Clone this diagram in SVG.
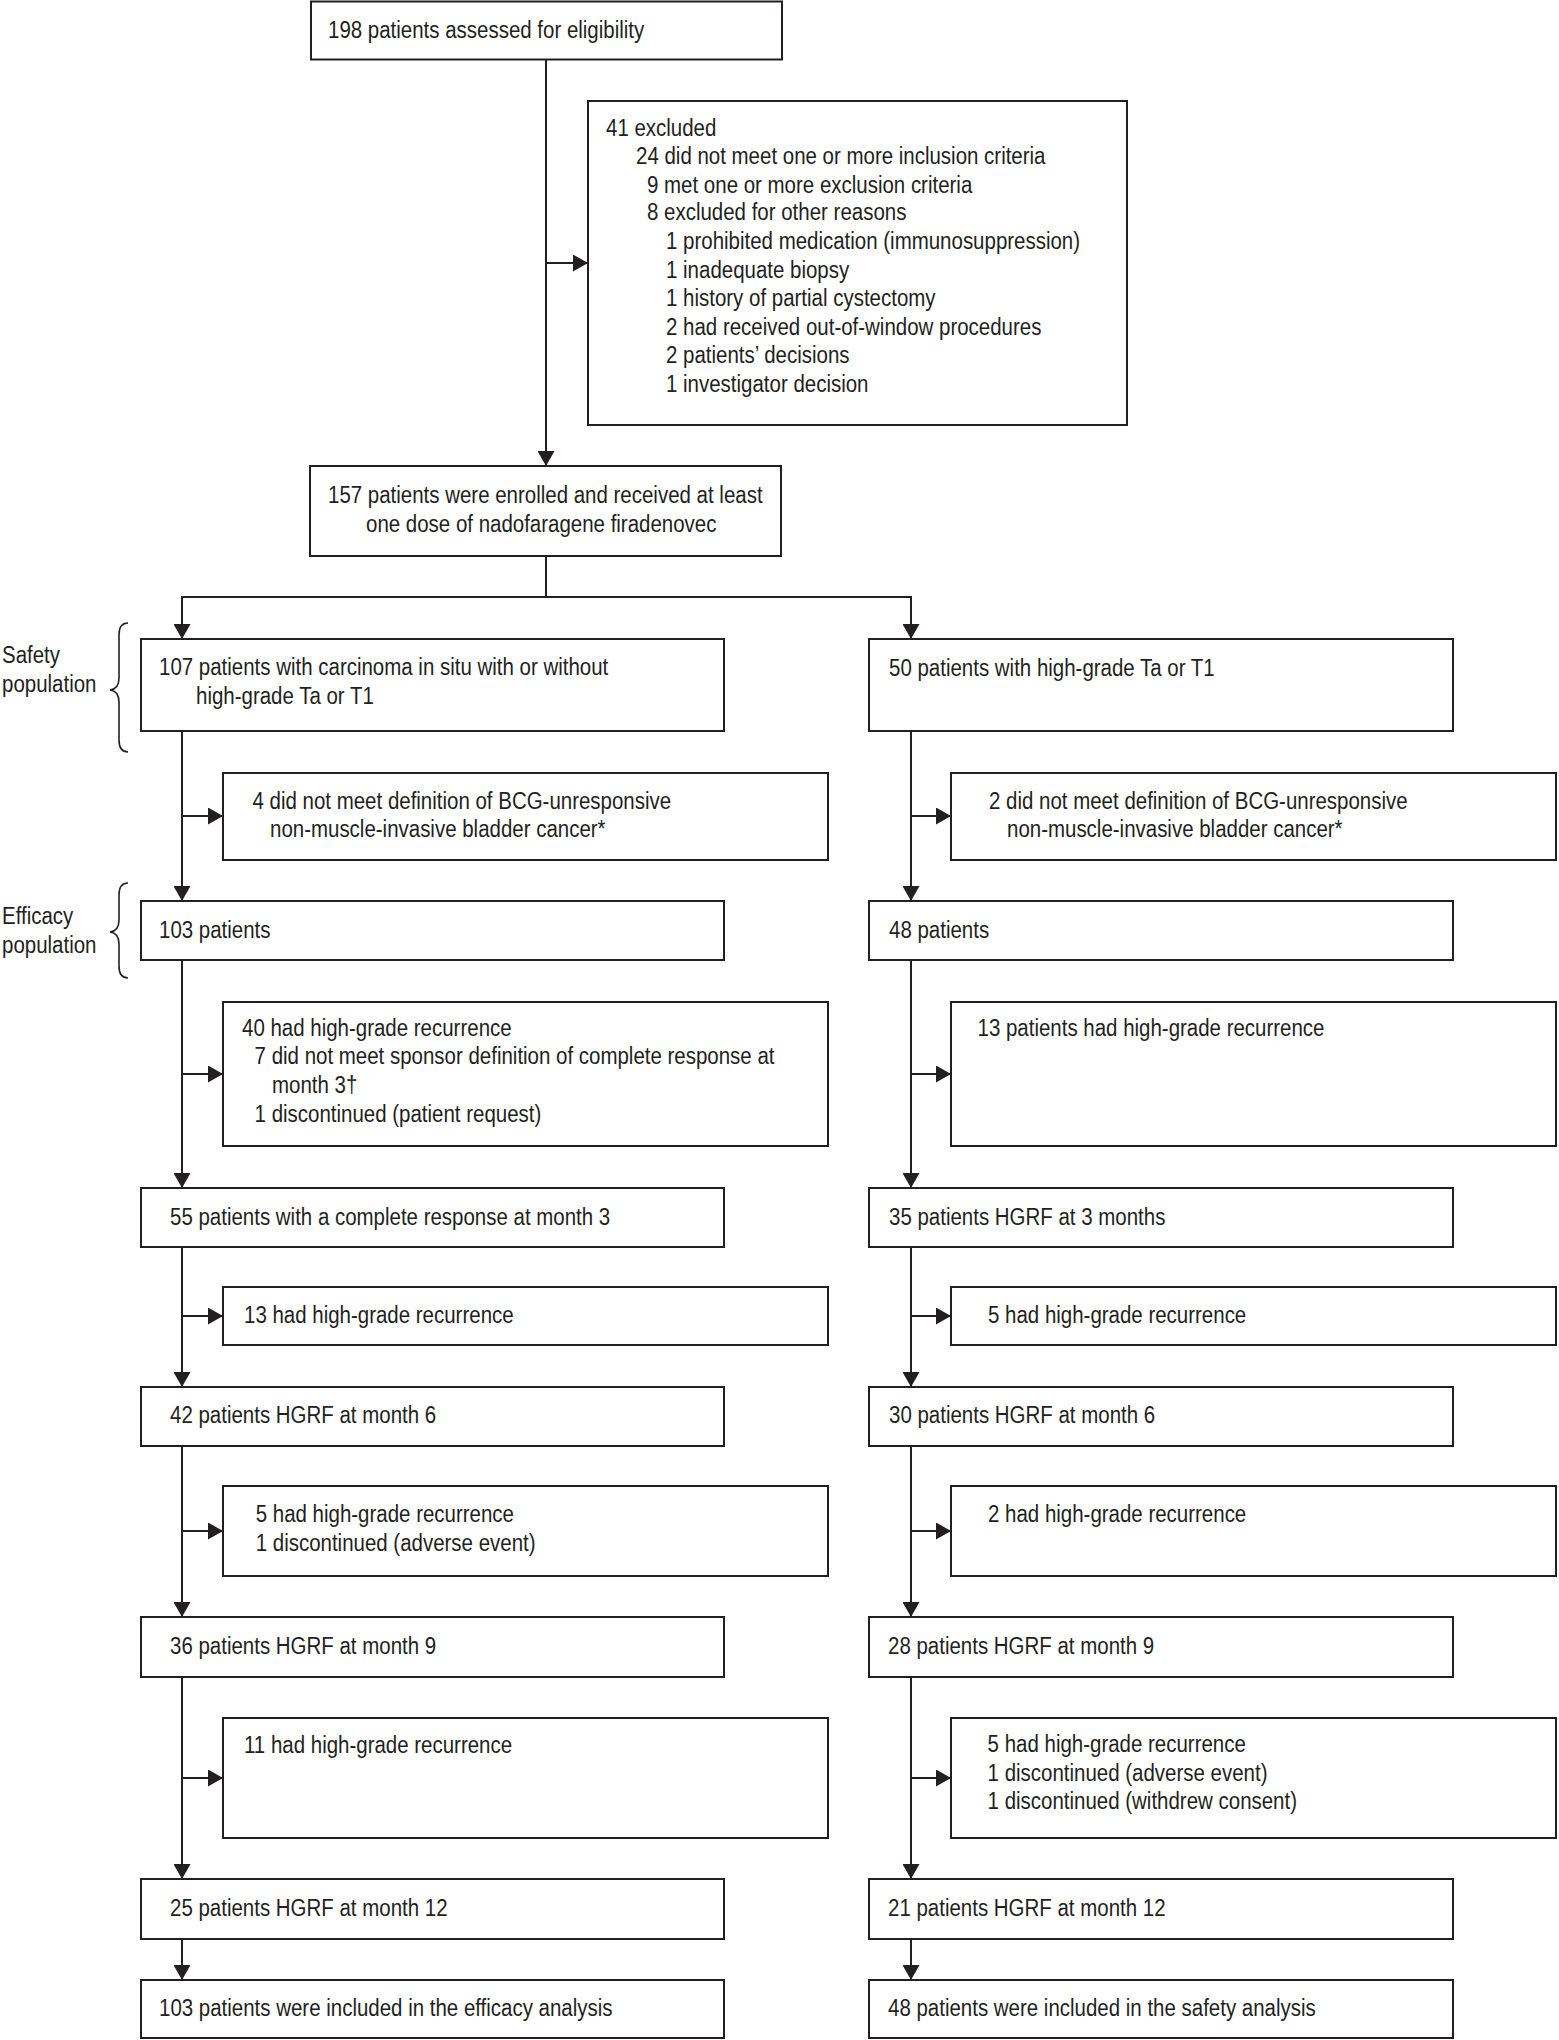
<svg xmlns="http://www.w3.org/2000/svg" width="1559" height="2040" viewBox="0 0 1559 2040">
<style>
rect.box{fill:#fff;stroke:#231f20;stroke-width:2}
.t{font-family:"Liberation Sans",Arial,sans-serif;font-size:23px;fill:#231f20}
.c{fill:none;stroke:#231f20;stroke-width:2}
.br{fill:none;stroke:#231f20;stroke-width:1.6}
</style>
<defs>
<marker id="ah" markerUnits="userSpaceOnUse" markerWidth="15" markerHeight="17" refX="15" refY="8.5" orient="auto">
<path d="M0,0 L15,8.5 L0,17 z" fill="#231f20"/>
</marker>
</defs>
<rect width="1559" height="2040" fill="#fff"/>

<g id="connectors">
<path class="c" d="M546,60 V466" marker-end="url(#ah)"/>
<path class="c" d="M546,263 H588" marker-end="url(#ah)"/>
<path class="c" d="M546,556 V597 H182 V639" marker-end="url(#ah)"/>
<path class="c" d="M546,597 H911 V639" marker-end="url(#ah)"/>
<path class="c" d="M182,731 V901" marker-end="url(#ah)"/>
<path class="c" d="M182,816 H223" marker-end="url(#ah)"/>
<path class="c" d="M182,960 V1188" marker-end="url(#ah)"/>
<path class="c" d="M182,1074 H223" marker-end="url(#ah)"/>
<path class="c" d="M182,1247 V1387" marker-end="url(#ah)"/>
<path class="c" d="M182,1316 H223" marker-end="url(#ah)"/>
<path class="c" d="M182,1446 V1617" marker-end="url(#ah)"/>
<path class="c" d="M182,1531 H223" marker-end="url(#ah)"/>
<path class="c" d="M182,1677 V1879" marker-end="url(#ah)"/>
<path class="c" d="M182,1778 H223" marker-end="url(#ah)"/>
<path class="c" d="M182,1939 V1980" marker-end="url(#ah)"/>
<path class="c" d="M911,731 V901" marker-end="url(#ah)"/>
<path class="c" d="M911,816 H951" marker-end="url(#ah)"/>
<path class="c" d="M911,960 V1188" marker-end="url(#ah)"/>
<path class="c" d="M911,1074 H951" marker-end="url(#ah)"/>
<path class="c" d="M911,1247 V1387" marker-end="url(#ah)"/>
<path class="c" d="M911,1316 H951" marker-end="url(#ah)"/>
<path class="c" d="M911,1446 V1617" marker-end="url(#ah)"/>
<path class="c" d="M911,1531 H951" marker-end="url(#ah)"/>
<path class="c" d="M911,1677 V1879" marker-end="url(#ah)"/>
<path class="c" d="M911,1778 H951" marker-end="url(#ah)"/>
<path class="c" d="M911,1939 V1980" marker-end="url(#ah)"/>
</g>

<g id="labels">
<text class="t" transform="translate(2 663) scale(.89 1)">Safety</text>
<text class="t" transform="translate(2 692) scale(.89 1)">population</text>
<path class="br" d="M128,623 Q119,623 119,635 L119,678 Q119,689 110,690 Q119,691 119,702 L119,740 Q119,752 128,752"/>
<text class="t" transform="translate(2 924) scale(.89 1)">Efficacy</text>
<text class="t" transform="translate(2 953) scale(.89 1)">population</text>
<path class="br" d="M128,883 Q119,883 119,895 L119,920 Q119,931 110,932 Q119,933 119,944 L119,966 Q119,978 128,978"/>
</g>

<g id="n-assessed">
<rect class="box" x="311" y="1.5" width="471" height="58"/>
<text class="t" transform="translate(328 38) scale(.89 1)">198 patients assessed for eligibility</text>
</g>

<g id="n-excluded">
<rect class="box" x="588" y="101" width="539" height="324"/>
<text class="t" transform="translate(606 135.5) scale(.89 1)">41 excluded</text>
<text class="t" transform="translate(636 164) scale(.89 1)">24 did not meet one or more inclusion criteria</text>
<text class="t" transform="translate(647 193) scale(.89 1)">9 met one or more exclusion criteria</text>
<text class="t" transform="translate(647 220) scale(.89 1)">8 excluded for other reasons</text>
<text class="t" transform="translate(666 249) scale(.89 1)">1 prohibited medication (immunosuppression)</text>
<text class="t" transform="translate(666 277.5) scale(.89 1)">1 inadequate biopsy</text>
<text class="t" transform="translate(666 306) scale(.89 1)">1 history of partial cystectomy</text>
<text class="t" transform="translate(666 334.5) scale(.89 1)">2 had received out-of-window procedures</text>
<text class="t" transform="translate(666 363) scale(.89 1)">2 patients’ decisions</text>
<text class="t" transform="translate(666 392) scale(.89 1)">1 investigator decision</text>
</g>

<g id="n-enrolled">
<rect class="box" x="310" y="466" width="471" height="90"/>
<text class="t" transform="translate(328 503) scale(.89 1)">157 patients were enrolled and received at least</text>
<text class="t" transform="translate(366 532) scale(.89 1)">one dose of nadofaragene firadenovec</text>
</g>

<g id="n-l-cis">
<rect class="box" x="141" y="639" width="583" height="92"/>
<text class="t" transform="translate(159 675) scale(.89 1)">107 patients with carcinoma in situ with or without</text>
<text class="t" transform="translate(196 704) scale(.89 1)">high-grade Ta or T1</text>
</g>
<g id="n-r-ta">
<rect class="box" x="869" y="639" width="584" height="92"/>
<text class="t" transform="translate(889 676) scale(.89 1)">50 patients with high-grade Ta or T1</text>
</g>

<g id="n-l-excl">
<rect class="box" x="223" y="773" width="605" height="87"/>
<text class="t" transform="translate(252.5 808.5) scale(.89 1)">4 did not meet definition of BCG-unresponsive</text>
<text class="t" transform="translate(270 836.5) scale(.89 1)">non-muscle-invasive bladder cancer*</text>
</g>
<g id="n-r-excl">
<rect class="box" x="951" y="773" width="605" height="87"/>
<text class="t" transform="translate(989 808.5) scale(.89 1)">2 did not meet definition of BCG-unresponsive</text>
<text class="t" transform="translate(1007 836.5) scale(.89 1)">non-muscle-invasive bladder cancer*</text>
</g>

<g id="n-l-103">
<rect class="box" x="141" y="901" width="583" height="59"/>
<text class="t" transform="translate(159 938) scale(.89 1)">103 patients</text>
</g>
<g id="n-r-48">
<rect class="box" x="869" y="901" width="584" height="59"/>
<text class="t" transform="translate(889 938) scale(.89 1)">48 patients</text>
</g>

<g id="n-l-m3loss">
<rect class="box" x="223" y="1002" width="605" height="144"/>
<text class="t" transform="translate(242 1036) scale(.89 1)">40 had high-grade recurrence</text>
<text class="t" transform="translate(254.6 1064) scale(.89 1)">7 did not meet sponsor definition of complete response at</text>
<text class="t" transform="translate(272 1093) scale(.89 1)">month 3†</text>
<text class="t" transform="translate(254.6 1121.5) scale(.89 1)">1 discontinued (patient request)</text>
</g>
<g id="n-r-m3loss">
<rect class="box" x="951" y="1002" width="605" height="144"/>
<text class="t" transform="translate(977.5 1036) scale(.89 1)">13 patients had high-grade recurrence</text>
</g>

<g id="n-l-m3">
<rect class="box" x="141" y="1188" width="583" height="59"/>
<text class="t" transform="translate(170 1225) scale(.89 1)">55 patients with a complete response at month 3</text>
</g>
<g id="n-r-m3">
<rect class="box" x="869" y="1188" width="584" height="59"/>
<text class="t" transform="translate(889 1225) scale(.89 1)">35 patients HGRF at 3 months</text>
</g>

<g id="n-l-m6loss">
<rect class="box" x="223" y="1287" width="605" height="58"/>
<text class="t" transform="translate(244 1323) scale(.89 1)">13 had high-grade recurrence</text>
</g>
<g id="n-r-m6loss">
<rect class="box" x="951" y="1287" width="605" height="58"/>
<text class="t" transform="translate(988 1323) scale(.89 1)">5 had high-grade recurrence</text>
</g>

<g id="n-l-m6">
<rect class="box" x="141" y="1387" width="583" height="59"/>
<text class="t" transform="translate(170 1423) scale(.89 1)">42 patients HGRF at month 6</text>
</g>
<g id="n-r-m6">
<rect class="box" x="869" y="1387" width="584" height="59"/>
<text class="t" transform="translate(889 1423) scale(.89 1)">30 patients HGRF at month 6</text>
</g>

<g id="n-l-m9loss">
<rect class="box" x="223" y="1486" width="605" height="90"/>
<text class="t" transform="translate(255.7 1522) scale(.89 1)">5 had high-grade recurrence</text>
<text class="t" transform="translate(255.7 1550.5) scale(.89 1)">1 discontinued (adverse event)</text>
</g>
<g id="n-r-m9loss">
<rect class="box" x="951" y="1486" width="605" height="90"/>
<text class="t" transform="translate(988 1522) scale(.89 1)">2 had high-grade recurrence</text>
</g>

<g id="n-l-m9">
<rect class="box" x="141" y="1617" width="583" height="60"/>
<text class="t" transform="translate(170 1654) scale(.89 1)">36 patients HGRF at month 9</text>
</g>
<g id="n-r-m9">
<rect class="box" x="869" y="1617" width="584" height="60"/>
<text class="t" transform="translate(888 1654) scale(.89 1)">28 patients HGRF at month 9</text>
</g>

<g id="n-l-m12loss">
<rect class="box" x="223" y="1718" width="605" height="120"/>
<text class="t" transform="translate(244 1753) scale(.89 1)">11 had high-grade recurrence</text>
</g>
<g id="n-r-m12loss">
<rect class="box" x="951" y="1718" width="605" height="120"/>
<text class="t" transform="translate(987.6 1752) scale(.89 1)">5 had high-grade recurrence</text>
<text class="t" transform="translate(987.6 1781) scale(.89 1)">1 discontinued (adverse event)</text>
<text class="t" transform="translate(987.6 1809) scale(.89 1)">1 discontinued (withdrew consent)</text>
</g>

<g id="n-l-m12">
<rect class="box" x="141" y="1879" width="583" height="60"/>
<text class="t" transform="translate(170 1916) scale(.89 1)">25 patients HGRF at month 12</text>
</g>
<g id="n-r-m12">
<rect class="box" x="869" y="1879" width="584" height="60"/>
<text class="t" transform="translate(888 1916) scale(.89 1)">21 patients HGRF at month 12</text>
</g>

<g id="n-l-final">
<rect class="box" x="141" y="1980" width="583" height="58"/>
<text class="t" transform="translate(159 2016) scale(.89 1)">103 patients were included in the efficacy analysis</text>
</g>
<g id="n-r-final">
<rect class="box" x="869" y="1980" width="584" height="58"/>
<text class="t" transform="translate(888 2016) scale(.89 1)">48 patients were included in the safety analysis</text>
</g>
</svg>
